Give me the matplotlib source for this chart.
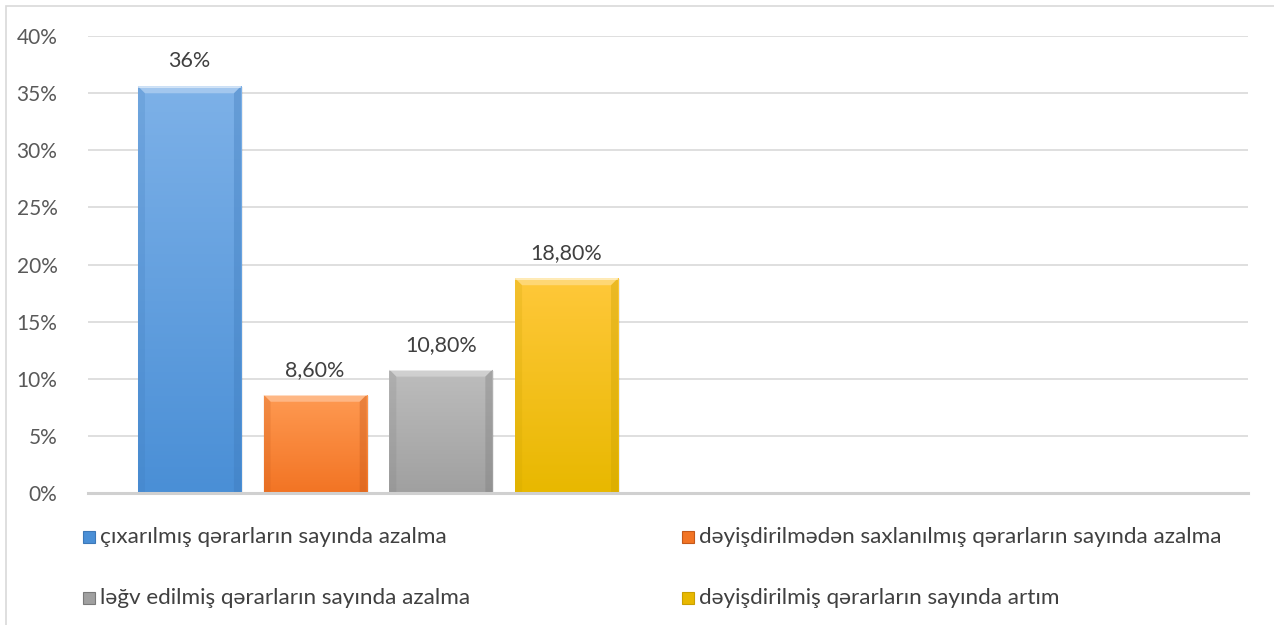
import matplotlib
matplotlib.use("Agg")
import matplotlib.pyplot as plt
import numpy as np
from matplotlib.patches import Rectangle, Polygon
from matplotlib.colors import to_rgb

series = ["çıxarılmış qərarların sayında azalma",
          "dəyişdirilmədən saxlanılmış qərarların sayında azalma",
          "ləğv edilmiş qərarların sayında azalma",
          "dəyişdirilmiş qərarların sayında artım"]
values = [35.6, 8.6, 10.8, 18.8]
value_labels = ["36%", "8,60%", "10,80%", "18,80%"]
yticks = [0, 5, 10, 15, 20, 25, 30, 35, 40]

top_colors = ["#7db1e8", "#ff9a52", "#bdbdbd", "#ffc83a"]
bot_colors = ["#4a8fd6", "#f27424", "#a0a0a0", "#e8b800"]
edge_colors = ["#3c78b8", "#c4581a", "#7a7a7a", "#c9a000"]

plt.rcParams['font.family'] = ['Lato', 'DejaVu Sans']

W, H = 1274, 625
fig = plt.figure(figsize=(W / 100, H / 100), dpi=100)
ax = fig.add_axes([88 / W, 132 / H, (1248 - 88) / W, (493 - 36) / H])
ax.set_xlim(-0.5, 1.5)
ax.set_ylim(0, 40)

# figure border (only top/left visible)
fig.patches.append(Rectangle((6 / W, -0.05), 1.2, (619 + 0.05 * H) / H,
                             transform=fig.transFigure, fill=False,
                             edgecolor="#d9d9d9", linewidth=1.2))

spacing = 0.2167
width = 0.1776
xs = [(i - 1.5) * spacing for i in range(len(values))]

px_x = 2.0 / (1248 - 88)       # data units per pixel (x)
px_y = 40.0 / (493 - 36)       # data units per pixel (y)

for x, v, tc, bc, ec, lab in zip(xs, values, top_colors, bot_colors, edge_colors, value_labels):
    # shadow
    ax.add_patch(Rectangle((x - width / 2 + 2 * px_x, 0), width, v - 1 * px_y,
                           facecolor="#000000", alpha=0.07, zorder=2, linewidth=0))
    b = ax.bar(x, v, width, color=bc, zorder=3, linewidth=0)[0]
    # vertical gradient
    t = np.array(to_rgb(tc)); bo = np.array(to_rgb(bc))
    n = 100
    grad = np.linspace(0, 1, n)[:, None]
    img = (t[None, :] * (1 - grad) + bo[None, :] * grad)[:, None, :]
    im = ax.imshow(img, extent=[x - width / 2, x + width / 2, 0, v],
                   aspect="auto", zorder=4, origin="upper", interpolation="bilinear")
    im.set_clip_path(b)
    # bevel
    bx = 7 * px_x; by = 7 * px_y
    x0, x1 = x - width / 2, x + width / 2
    ax.add_patch(Polygon([[x0, v], [x1, v], [x1 - bx, v - by], [x0 + bx, v - by]],
                         closed=True, facecolor="white", alpha=0.3, linewidth=0, zorder=5))
    ax.add_patch(Polygon([[x0, 0], [x0, v], [x0 + bx, v - by], [x0 + bx, 0]],
                         closed=True, facecolor=ec, alpha=0.2, linewidth=0, zorder=5))
    ax.add_patch(Polygon([[x1, 0], [x1, v], [x1 - bx, v - by], [x1 - bx, 0]],
                         closed=True, facecolor=ec, alpha=0.35, linewidth=0, zorder=5))
    ax.add_patch(Rectangle((x0, v - 1.5 * px_y), width, 1.5 * px_y,
                           facecolor="white", alpha=0.5, linewidth=0, zorder=6))
    ax.text(x, v + 25 * px_y, lab, ha="center", va="center", fontsize=15.5,
            color="#404040", zorder=7)

ax.set_yticks(yticks)
ax.set_yticklabels([f"{t}%" for t in yticks])
ax.tick_params(axis="y", length=0, labelsize=15, colors="#595959", pad=22)
ax.set_xticks([])
ax.grid(axis="y", color="#d9d9d9", linewidth=1.2, zorder=0)
ax.set_axisbelow(True)
for s in ["top", "right", "left"]:
    ax.spines[s].set_visible(False)
ax.spines["bottom"].set_color("#d0d0d0")
ax.spines["bottom"].set_linewidth(2.2)
ax.spines["bottom"].set_zorder(8)

# legend (manual, two columns)
leg_pos = [(83, 537), (682, 537), (83, 598), (682, 598)]
order = [0, 1, 2, 3]
for idx, (lx, ly) in zip(order, leg_pos):
    sz = 12
    fig.patches.append(Rectangle((lx / W, (H - ly - sz / 2) / H), sz / W, sz / H,
                                 transform=fig.transFigure, facecolor=bot_colors[idx],
                                 edgecolor=edge_colors[idx], linewidth=0.8))
    fig.text((lx + 17) / W, (H - ly) / H, series[idx], ha="left", va="center",
             fontsize=16.2, color="#404040")

fig.savefig("out.png", dpi=100)
